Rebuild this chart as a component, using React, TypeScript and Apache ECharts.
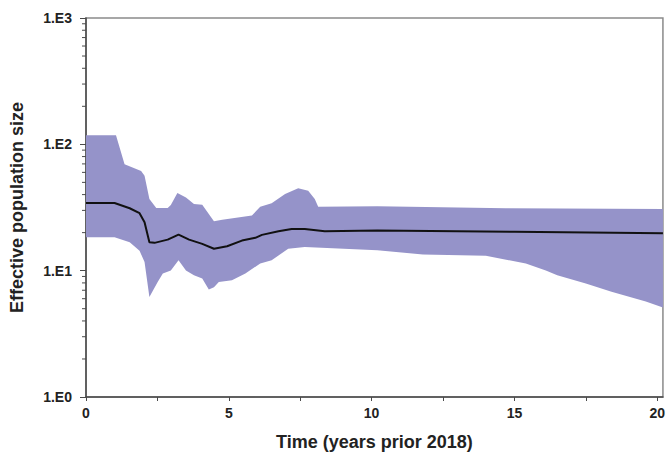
import React, { useEffect, useRef } from "react";
import * as echarts from "echarts";

// Time (years prior 2018) and effective population size
const upperT = [0, 1.05, 1.35, 1.93, 2.05, 2.22, 2.46, 2.86, 2.97, 3.2, 3.5, 3.78, 4.07, 4.48, 4.77, 5.81, 6.1, 6.5, 6.97, 7.43, 7.78, 8.01, 8.13, 10.2, 14.7, 20.2];
const upperV = [118, 118, 69.6, 61.6, 56.3, 36.9, 31.3, 31.3, 33.1, 41.1, 38.0, 33.7, 33.3, 24.6, 25.3, 27.3, 32.1, 34.1, 40.4, 45.0, 42.9, 36.9, 32.1, 32.3, 31.2, 30.8];

const lowerT = [0, 1.0, 1.53, 1.875, 2.05, 2.22, 2.51, 2.69, 2.97, 3.24, 3.5, 3.78, 4.07, 4.3, 4.48, 4.65, 5.11, 5.58, 6.1, 6.5, 7.08, 7.66, 10.2, 11.8, 14.0, 15.4, 16.1, 16.5, 17.5, 18.4, 19.6, 20.2];
const lowerV = [18.4, 18.4, 16.8, 14.4, 11.7, 6.2, 8.15, 9.5, 10.05, 12.1, 10.05, 9.2, 8.65, 7.1, 7.4, 8.15, 8.4, 9.5, 11.4, 12.1, 14.9, 15.4, 14.5, 13.4, 13.1, 11.4, 10.05, 9.2, 7.9, 6.8, 5.7, 5.1];

const medianT = [0, 1.0, 1.53, 1.875, 2.05, 2.22, 2.4, 2.86, 3.24, 3.61, 4.07, 4.48, 4.94, 5.46, 5.93, 6.16, 6.74, 7.2, 7.66, 8.36, 10.2, 15, 20.2];
const medianV = [34.3, 34.3, 31.2, 28.5, 24.2, 16.8, 16.6, 17.6, 19.3, 17.6, 16.3, 14.9, 15.6, 17.3, 18.2, 19.2, 20.5, 21.4, 21.4, 20.5, 20.8, 20.3, 19.8];

const yMinorTicks = [2, 3, 4, 5, 6, 7, 8, 9, 20, 30, 40, 50, 60, 70, 80, 90, 200, 300, 400, 500, 600, 700, 800, 900];
const xTickValues = [0, 2.5, 5, 7.5, 10, 12.5, 15, 17.5, 20];
const xLabelValues = [0, 5, 10, 15, 20];

const FONT = '"Liberation Sans", Arial, Helvetica, sans-serif';
const AXIS_COLOR = "#4a4a4a";
const BAND_COLOR = "#9593c9";

export default function App() {
  const ref = useRef<HTMLDivElement>(null);

  useEffect(() => {
    if (!ref.current) return;
    const chart = echarts.init(ref.current, null, { renderer: "svg" });

    chart.setOption({
      animation: false,
      backgroundColor: "#ffffff",
      grid: {
        left: 86,
        top: 18,
        right: 2,
        bottom: 57,
        show: true,
        borderColor: "#8a8a8a",
        borderWidth: 1.5,
        backgroundColor: "transparent",
      },
      xAxis: {
        type: "value",
        min: 0,
        max: 20.2,
        interval: 5,
        name: "Time (years prior 2018)",
        nameLocation: "middle",
        nameGap: 36,
        nameTextStyle: { fontFamily: FONT, fontWeight: "bold", fontSize: 18, color: "#222" },
        axisLine: { show: true, lineStyle: { color: AXIS_COLOR, width: 1.5 } },
        axisTick: { show: true, customValues: xTickValues, length: 4, lineStyle: { color: AXIS_COLOR } },
        axisLabel: {
          customValues: xLabelValues,
          margin: 9,
          fontFamily: FONT,
          fontWeight: "bold",
          fontSize: 14,
          color: "#222",
        },
        splitLine: { show: false },
      },
      yAxis: {
        type: "log",
        logBase: 10,
        min: 1,
        max: 1000,
        name: "Effective population size",
        nameLocation: "middle",
        nameGap: 60,
        nameTextStyle: { fontFamily: FONT, fontWeight: "bold", fontSize: 18, color: "#222" },
        axisLine: { show: true, lineStyle: { color: AXIS_COLOR, width: 1.5 } },
        axisTick: { show: true, length: 6, lineStyle: { color: AXIS_COLOR } },
        axisLabel: {
          margin: 14,
          fontFamily: FONT,
          fontWeight: "bold",
          fontSize: 14,
          color: "#222",
          formatter: (v: number) => "1.E" + Math.round(Math.log10(v)),
        },
        splitLine: { show: false },
      },
      series: [
        {
          type: "custom",
          name: "band",
          z: 1,
          clip: true,
          silent: true,
          data: [[0, 1]],
          encode: { x: 0, y: 1 },
          renderItem: (_params: any, api: any) => {
            const pts: number[][] = [];
            for (let i = 0; i < upperT.length; i++) pts.push(api.coord([upperT[i], upperV[i]]));
            for (let i = lowerT.length - 1; i >= 0; i--) pts.push(api.coord([lowerT[i], lowerV[i]]));
            return { type: "polygon", shape: { points: pts }, style: { fill: BAND_COLOR } };
          },
        },
        {
          type: "line",
          name: "median",
          z: 3,
          symbol: "none",
          showSymbol: false,
          data: medianT.map((t, i) => [t, medianV[i]]),
          lineStyle: { color: "#111", width: 2 },
          itemStyle: { color: "#111" },
        },
        {
          type: "custom",
          name: "minorTicks",
          z: 4,
          clip: false,
          silent: true,
          data: yMinorTicks.map((v) => [0, v]),
          encode: { x: 0, y: 1 },
          renderItem: (_params: any, api: any) => {
            const p = api.coord([0, api.value(1)]);
            return {
              type: "line",
              shape: { x1: p[0] - 4, y1: p[1], x2: p[0], y2: p[1] },
              style: { stroke: AXIS_COLOR, lineWidth: 1 },
            };
          },
        },
      ],
    });

    return () => chart.dispose();
  }, []);

  return (
    <div
      ref={ref}
      style={{ position: "absolute", left: 0, top: 0, width: 668, height: 456 }}
    />
  );
}
